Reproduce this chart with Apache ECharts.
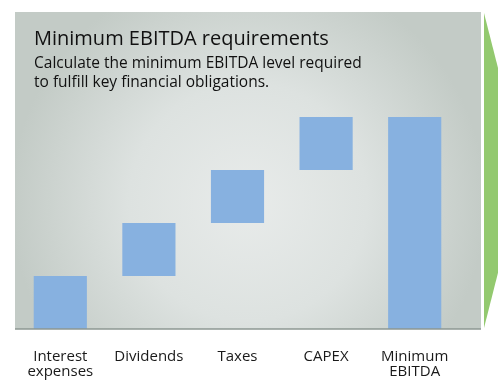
<!DOCTYPE html>
<html>
<head>
<meta charset="utf-8">
<script src="https://cdn.jsdelivr.net/npm/echarts@6/dist/echarts.min.js"></script>
<style>
html,body{margin:0;padding:0;background:#fff;}
#c{width:498px;height:381px;}
</style>
</head>
<body>
<div id="c"></div>
<script>
var categories = ['Interest\nexpenses', 'Dividends', 'Taxes', 'CAPEX', 'Minimum\nEBITDA'];
var stepValues = [1, 1, 1, 1];
var totalValue = 4;
var titleText = 'Minimum EBITDA requirements';
var subtitleText = 'Calculate the minimum EBITDA level required\nto fulfill key financial obligations.';

var baseData = [];
var barData = [];
var acc = 0;
for (var i = 0; i < stepValues.length; i++) {
  baseData.push(acc);
  barData.push(stepValues[i]);
  acc += stepValues[i];
}
baseData.push(0);
barData.push(totalValue);

var chart = echarts.init(document.getElementById('c'), null, {renderer: 'canvas'});
var font = '"Open Sans", "Noto Sans", sans-serif';
chart.setOption({
  animation: false,
  graphic: [
    {
      type: 'rect', z: -10, silent: true,
      shape: {x: 15, y: 12, width: 466, height: 317},
      style: {
        fill: {
          type: 'radial', x: 0.5, y: 0.6, r: 0.75,
          colorStops: [
            {offset: 0, color: '#e8ebea'},
            {offset: 0.5, color: '#dde2e0'},
            {offset: 1, color: '#c3cbc6'}
          ]
        }
      }
    },
    {
      type: 'polygon', z: -10, silent: true,
      shape: {points: [[484, 13], [524, 170], [484, 328]]},
      style: {fill: '#93c96f'}
    },
    {
      type: 'line', z: 5, silent: true,
      shape: {x1: 15, y1: 329, x2: 481, y2: 329},
      style: {stroke: '#8d9792', lineWidth: 1.5}
    },
    {
      type: 'text', z: 10, left: 34, top: 29,
      style: {text: titleText, font: '20px ' + font, fill: '#111'}
    },
    {
      type: 'text', z: 10, left: 34, top: 54,
      style: {text: subtitleText, font: '15.5px ' + font, fill: '#111', lineHeight: 19}
    }
  ],
  grid: {left: 16, right: 39, top: 11, bottom: 52},
  xAxis: {
    type: 'category',
    data: categories,
    axisLine: {show: false},
    axisTick: {show: false},
    axisLabel: {
      color: '#1a1a1a', fontFamily: font, fontSize: 15, margin: 20, lineHeight: 15, interval: 0
    }
  },
  yAxis: {
    type: 'value', min: 0, max: 6,
    show: false,
    splitLine: {show: false}
  },
  series: [
    {
      type: 'bar', stack: 'w', data: baseData, silent: true,
      itemStyle: {color: 'transparent'}, barWidth: '60%'
    },
    {
      type: 'bar', stack: 'w', data: barData,
      itemStyle: {color: '#87b1e0'}, barWidth: '60%'
    }
  ]
});
</script>
</body>
</html>
